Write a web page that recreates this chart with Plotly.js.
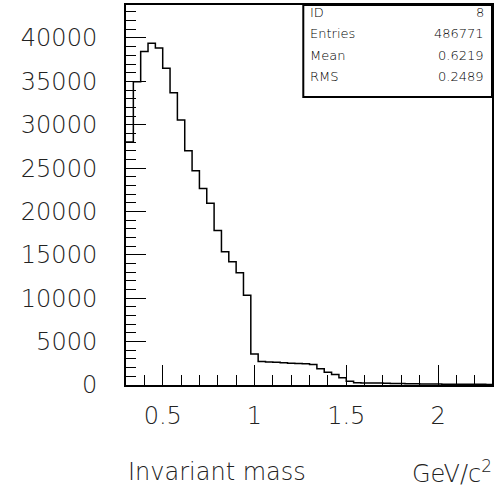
<!DOCTYPE html>
<html>
<head>
<meta charset="utf-8">
<script src="https://cdn.plot.ly/plotly-3.0.1.min.js"></script>
<style>html,body{margin:0;padding:0;background:#fff;}#chart{width:494px;height:497px;}</style>
</head>
<body>
<div id="chart"></div>
<script>
// Histogram: invariant mass, 50 bins of width 0.04 starting at 0.30
const binStart = 0.30;
const binWidth = 0.04;
const counts = [
  28000, 34950, 38450, 39400, 38850, 36500, 33700, 30550, 27000, 24700,
  22650, 20950, 17800, 15350, 14200, 12950, 10350, 3580, 2700, 2660,
  2620, 2560, 2510, 2480, 2440, 2350, 1870, 1470, 1210, 830,
  440, 260, 240, 230, 220, 190, 170, 160, 140, 130,
  120, 115, 110, 100, 95, 90, 85, 80, 75, 70
];
const xTickVals = [0.5, 1, 1.5, 2];
const xTickText = ["0.5", "1", "1.5", "2"];
const yTickVals = [0, 5000, 10000, 15000, 20000, 25000, 30000, 35000, 40000];
const yTickText = ["0", "5000", "10000", "15000", "20000", "25000", "30000", "35000", "40000"];
const statLabels = ["ID", "Entries", "Mean", "RMS"];
const statValues = ["8", "486771", "0.6219", "0.2489"];
const xTitle = "Invariant mass";
const xUnit = "GeV/c<sup>2</sup>";

const edges = counts.map((_, i) => +(binStart + i * binWidth).toFixed(4));
edges.push(+(binStart + counts.length * binWidth).toFixed(4));
const ys = counts.concat([counts[counts.length - 1]]);

const tickFont = {family: "'DejaVu Sans', Lato, sans-serif", size: 24, color: "#222", weight: 200};

const trace = {
  type: "scatter", mode: "lines", x: edges, y: ys,
  line: {shape: "hv", color: "#000", width: 1.5},
  hoverinfo: "skip", showlegend: false
};

const rowY = [0.979, 0.924, 0.866, 0.811];
const statFont = {family: "'DejaVu Sans', 'Liberation Sans', sans-serif", size: 13, color: "#000", weight: 200};
const annotations = [];
statLabels.forEach((t, i) => {
  annotations.push({xref: "paper", yref: "paper", x: 0.497, y: rowY[i], xanchor: "left", yanchor: "middle",
    text: t, showarrow: false, font: statFont});
  annotations.push({xref: "paper", yref: "paper", x: 0.984, y: rowY[i], xanchor: "right", yanchor: "middle",
    text: statValues[i], showarrow: false, font: statFont});
});
annotations.push({xref: "paper", yref: "paper", x: 0.0, y: -0.228, xanchor: "left", yanchor: "middle",
  text: xTitle, showarrow: false, font: tickFont});
annotations.push({xref: "paper", yref: "paper", x: 1.005, y: -0.228, xanchor: "right", yanchor: "middle",
  text: xUnit, showarrow: false, font: tickFont});

const layout = {
  width: 494, height: 497,
  margin: {l: 126, r: 2, t: 5, b: 112, pad: 0},
  paper_bgcolor: "#fff", plot_bgcolor: "#fff",
  showlegend: false,
  xaxis: {
    range: [0.3, 2.294], showgrid: false, zeroline: false,
    showline: true, linecolor: "#000", linewidth: 2, mirror: true,
    ticks: "inside", ticklen: 20, tickwidth: 1, tickcolor: "#000",
    tickvals: xTickVals, ticktext: xTickText, tickfont: tickFont, ticklabelstandoff: 8,
    minor: {dtick: 0.1, tick0: 0, ticks: "inside", ticklen: 10, tickwidth: 1, tickcolor: "#000", showgrid: false}
  },
  yaxis: {
    range: [0, 43800], showgrid: false, zeroline: false,
    showline: true, linecolor: "#000", linewidth: 2, mirror: true,
    ticks: "inside", ticklen: 20, tickwidth: 1, tickcolor: "#000",
    tickvals: yTickVals, ticktext: yTickText, tickfont: tickFont, ticklabelstandoff: 22,
    minor: {dtick: 1000, tick0: 0, ticks: "inside", ticklen: 10, tickwidth: 1, tickcolor: "#000", showgrid: false}
  },
  shapes: [{type: "rect", xref: "paper", yref: "paper", x0: 0.4844, x1: 1, y0: 0.758, y1: 1,
    line: {color: "#000", width: 2}, fillcolor: "#fff", layer: "above"}],
  annotations: annotations
};

Plotly.newPlot("chart", [trace], layout, {staticPlot: true, displayModeBar: false});
</script>
</body>
</html>
